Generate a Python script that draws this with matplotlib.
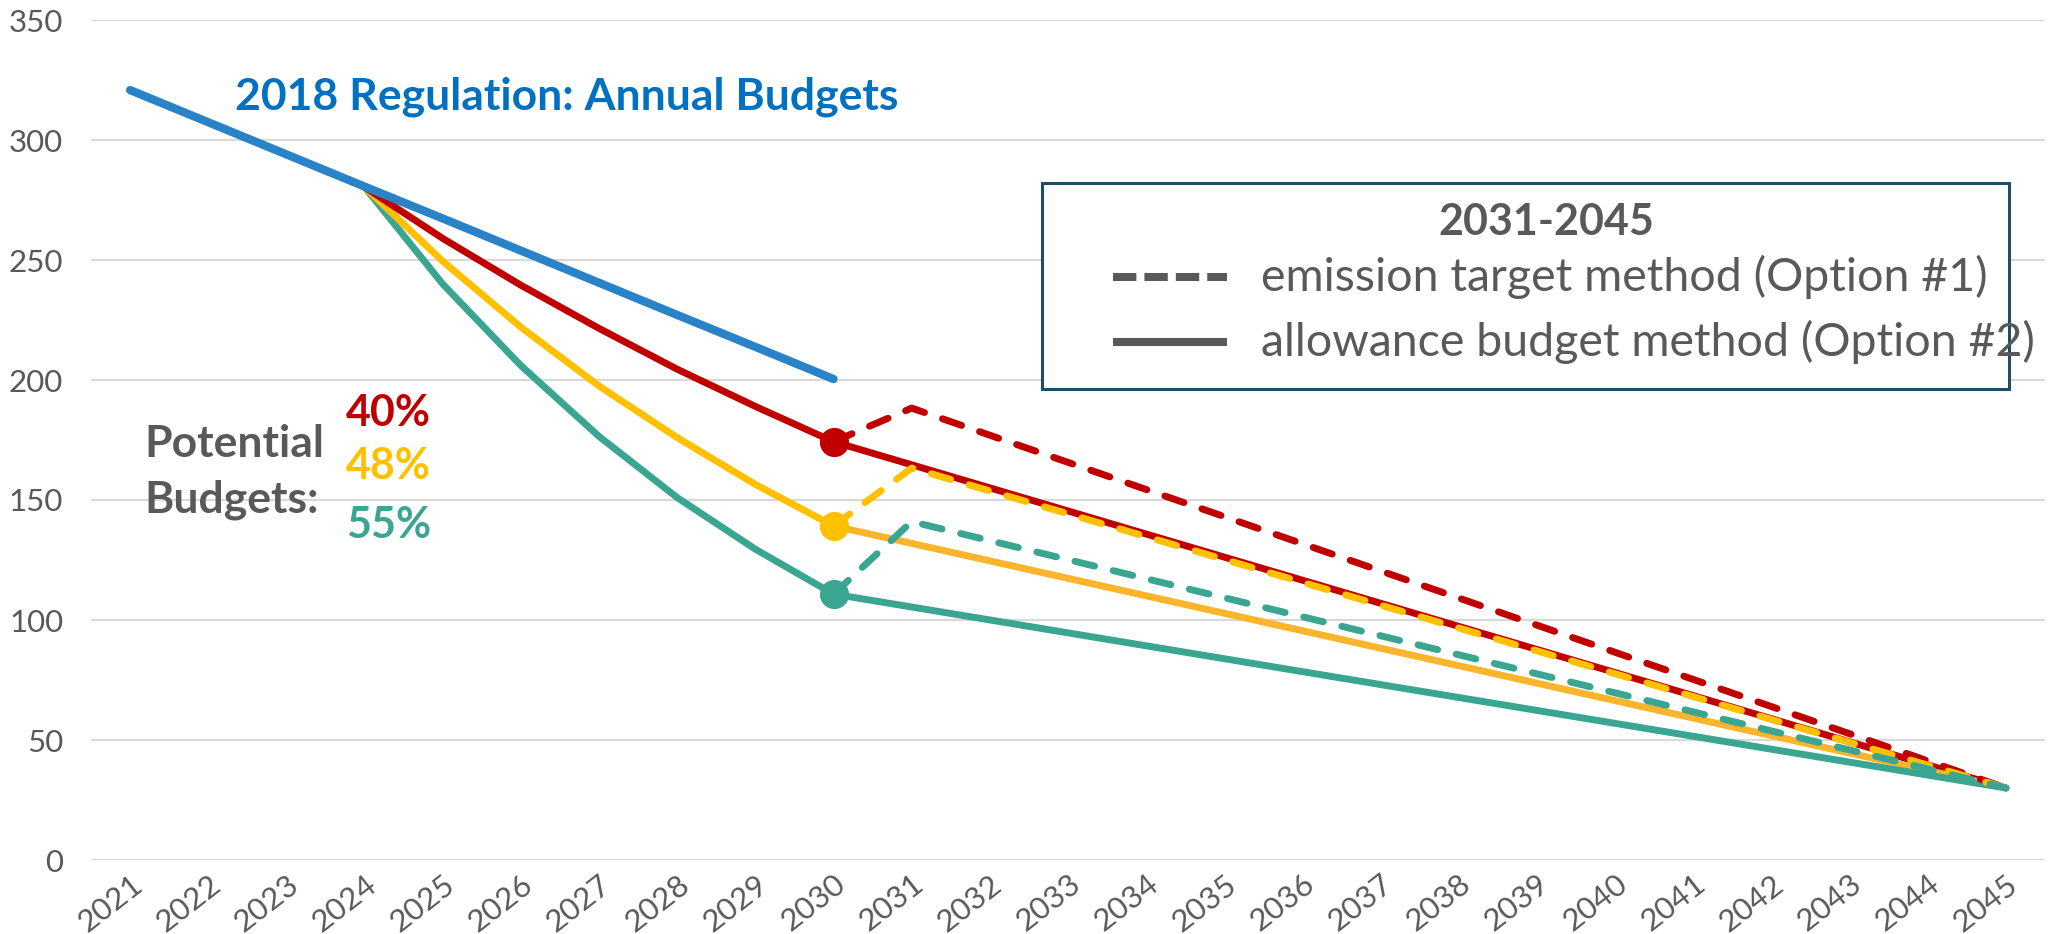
import matplotlib
matplotlib.use("Agg")
import matplotlib.pyplot as plt
from matplotlib.lines import Line2D
from matplotlib.patches import Rectangle
import numpy as np

plt.rcParams['font.family'] = ['Lato', 'DejaVu Sans']

years = list(range(2021, 2046))
year_labels = [str(y) for y in years]

# 2018 Regulation annual budgets (2021-2030)
reg_years = list(range(2021, 2031))
reg_values = [320.8, 307.4, 294.0, 280.6, 267.3, 253.9, 240.5, 227.1, 213.8, 200.4]

# Potential budgets 2024-2030
pot_years = list(range(2024, 2031))
pot40 = [280.4, 259.0, 239.5, 221.5, 204.5, 189.0, 174.3]
pot48 = [280.4, 249.5, 222.0, 197.5, 176.0, 156.5, 139.2]
pot55 = [280.4, 240.0, 206.0, 176.5, 151.0, 129.5, 110.8]

# Option #1 (emission target method): 2030, 2031, 2045
opt1_years = [2030, 2031, 2045]
opt1_40 = [174.3, 188.3, 30.0]
opt1_48 = [139.2, 163.3, 30.0]
opt1_55 = [110.8, 141.0, 30.0]

# Option #2 (allowance budget method): 2030, 2045
opt2_years = [2030, 2045]
opt2_40 = [174.3, 30.0]
opt2_48 = [139.2, 30.0]
opt2_55 = [110.8, 30.0]

legend_title = '2031-2045'
legend_labels = ['emission target method (Option #1)', 'allowance budget method (Option #2)']

RED = '#C00000'
YEL = '#FFC000'
YEL2 = '#FBB52C'
TEAL = '#3AA692'
BLUE = '#2A82C7'
BLUE_TXT = '#0070C0'
GRAY = '#595959'

W, H = 2049, 934
fig = plt.figure(figsize=(W / 100, H / 100), dpi=100)
ax = fig.add_axes([91 / W, 1 - 860 / H, (2045 - 91) / W, (860 - 20) / H])

ax.set_xlim(2020.5, 2045.5)
ax.set_ylim(0, 350)
ax.set_yticks(np.arange(0, 351, 50))
ax.set_xticks(years)
ax.set_xticklabels(year_labels, rotation=38, ha='right', va='top', rotation_mode='anchor')
ax.tick_params(axis='both', length=0, colors=GRAY)
ax.tick_params(axis='y', pad=20, labelsize=22.5)
ax.tick_params(axis='x', pad=7, labelsize=22.5)
for lab in ax.get_xticklabels() + ax.get_yticklabels():
    lab.set_color(GRAY)
for s in ax.spines.values():
    s.set_visible(False)
ax.grid(axis='y', color='#D9D9D9', linewidth=1.6)
ax.set_axisbelow(True)

lw = 5.0
dash = (2.9, 2.75)
# solid option 2
ax.plot(opt2_years, opt2_40, color=RED, lw=lw, solid_capstyle='round', zorder=3)
ax.plot(opt2_years, opt2_48, color=YEL2, lw=lw, solid_capstyle='round', zorder=3)
ax.plot(opt2_years, opt2_55, color=TEAL, lw=lw, solid_capstyle='round', zorder=3)
# dashed option 1
for yv, c in [(opt1_40, RED), (opt1_48, YEL), (opt1_55, TEAL)]:
    l, = ax.plot(opt1_years, yv, color=c, lw=lw, zorder=4, dash_capstyle='round',
                 dash_joinstyle='round')
    l.set_dashes(dash)
# potential budgets
ax.plot(pot_years, pot55, color=TEAL, lw=lw, solid_capstyle='round', zorder=5)
ax.plot(pot_years, pot48, color=YEL, lw=lw, solid_capstyle='round', zorder=5)
ax.plot(pot_years, pot40, color=RED, lw=lw, solid_capstyle='round', zorder=5)
# regulation
ax.plot(reg_years, reg_values, color=BLUE, lw=6.0, solid_capstyle='round', zorder=6)
# markers at 2030
for yv, c in [(pot40, RED), (pot48, YEL), (pot55, TEAL)]:
    ax.plot([pot_years[-1]], [yv[-1]], 'o', color=c, ms=20, zorder=7)

# annotations
fig.text(235 / W, 1 - 97 / H, '2018 Regulation: Annual Budgets', color=BLUE_TXT,
         fontsize=32, fontweight='bold', ha='left', va='center')
fig.text(144 / W, 1 - 444 / H, 'Potential', color=GRAY, fontsize=32,
         fontweight='bold', ha='left', va='center')
fig.text(144 / W, 1 - 500 / H, 'Budgets:', color=GRAY, fontsize=32,
         fontweight='bold', ha='left', va='center')
for txt, c, yy in [('40%', RED, 413), ('48%', YEL, 466), ('55%', TEAL, 525)]:
    fig.text(346 / W, 1 - yy / H, txt, color=c, fontsize=31, fontweight='bold',
             ha='left', va='center')

# legend box (drawn in figure pixels)
def fx(px):
    return px / W

def fy(py):
    return 1 - py / H

fig.patches.append(Rectangle((fx(1042), fy(389)), fx(2009) - fx(1042), fy(183) - fy(389),
                             transform=fig.transFigure, facecolor='white',
                             edgecolor='#1F4E63', linewidth=2.2, zorder=10))
fig.text(fx(1546), fy(222), legend_title, color=GRAY, fontsize=31, fontweight='bold',
         ha='center', va='center', zorder=11)
h1 = Line2D([fx(1113), fx(1227)], [fy(277), fy(277)], transform=fig.transFigure,
            color=GRAY, lw=5.8, solid_capstyle='butt', dash_capstyle='butt', zorder=11)
h1.set_dashes((2.9, 1.0))
h2 = Line2D([fx(1113), fx(1227)], [fy(342), fy(342)], transform=fig.transFigure,
            color=GRAY, lw=5.8, solid_capstyle='butt', zorder=11)
fig.lines.extend([h1, h2])
for lbl, yy in zip(legend_labels, [277, 342]):
    fig.text(fx(1261), fy(yy), lbl, color=GRAY, fontsize=33.5, ha='left', va='center',
             zorder=11)

fig.savefig('out.png', dpi=100)
